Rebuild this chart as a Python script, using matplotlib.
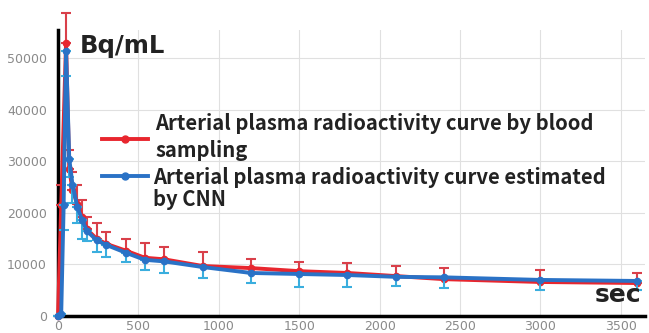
import numpy as np
import matplotlib
matplotlib.use("Agg")
import matplotlib.pyplot as plt
from matplotlib.lines import Line2D

# 血液採取による動脈血漿放射能曲線 (sec, Bq/mL)
t_red = [0, 20, 50, 70, 90, 120, 150, 180, 240, 300, 420, 540, 660, 900,
         1200, 1500, 1800, 2100, 2400, 3000, 3600]
v_red = [0, 21500, 53000, 28500, 24500, 21800, 19200, 16800, 15000, 14000, 12700,
         11300, 11000, 9700, 9300, 8700, 8350, 7750, 7150, 6600, 6400]
e_red = [0, 4000, 5800, 3700, 3500, 3600, 3300, 2500, 3000, 2300, 2300,
         2900, 2400, 2700, 1800, 1800, 1950, 1950, 2100, 2300, 1950]

# CNN推定
t_blue = [0, 20, 35, 50, 70, 90, 120, 150, 180, 240, 300, 420, 540, 660, 900,
          1200, 1500, 1800, 2100, 2400, 3000, 3600]
v_blue = [0, 400, 21500, 51500, 30500, 25500, 21200, 18600, 16500, 14700, 13800,
          12300, 10900, 10600, 9500, 8350, 8150, 7950, 7600, 7500, 7000, 6800]
e_blue = [0, 0, 4800, 5000, 3500, 3500, 3200, 3600, 2000, 2300, 2300,
          1800, 2000, 2250, 2100, 1950, 2550, 2350, 1800, 2100, 2000, 1800]

label_red = ["Arterial plasma radioactivity curve by blood", "sampling"]
label_blue = ["Arterial plasma radioactivity curve estimated", "by CNN"]

x_ticks = [0, 500, 1000, 1500, 2000, 2500, 3000, 3500]
y_ticks = [0, 10000, 20000, 30000, 40000, 50000]

red = "#e8262e"
red_err = "#d9404a"
blue = "#2a72c6"
blue_err = "#3aaede"
text_col = "#222222"

W, H = 649, 333
lab_font = ['Noto Sans CJK JP', 'DejaVu Sans']

fig = plt.figure(figsize=(W / 100, H / 100), dpi=100)
ax = fig.add_axes([58 / W, 17 / H, 587 / W, 286 / H])

# red: upper error only
ax.errorbar(t_red, v_red, yerr=[np.zeros(len(e_red)), e_red], color=red,
            ecolor=red_err, elinewidth=1.5, capsize=3.5, capthick=1.5,
            lw=2.8, marker='o', ms=4.5, clip_on=False, zorder=3)
# blue: lower error only
ax.errorbar(t_blue, v_blue, yerr=[e_blue, np.zeros(len(e_blue))], color=blue,
            ecolor=blue_err, elinewidth=1.5, capsize=3.5, capthick=1.5,
            lw=2.8, marker='o', ms=4.5, clip_on=False, zorder=4)

ax.set_xlim(0, 3650)
ax.set_ylim(0, 55500)
ax.set_xticks(x_ticks)
ax.set_yticks(y_ticks)
ax.tick_params(length=0, labelsize=9, labelcolor="#8a8a8a")
ax.tick_params(axis='y', pad=8)
ax.tick_params(axis='x', pad=3)
ax.grid(True, color="#e0e0e0", linewidth=0.8)
ax.set_axisbelow(True)

for s in ['top', 'right']:
    ax.spines[s].set_visible(False)
for s in ['left', 'bottom']:
    ax.spines[s].set_color('black')
    ax.spines[s].set_linewidth(2.5)

# axis unit labels
fig.text(80 / W, 1 - 46 / H, "Bq/mL", fontsize=17.5, fontweight='bold',
         color=text_col, va='center', ha='left', family='DejaVu Sans')
fig.text(641 / W, 1 - 295 / H, "sec", fontsize=18, fontweight='bold',
         color=text_col, va='center', ha='right', family='DejaVu Sans')

# manual legend: line with one marker in the middle
for col, y in [(red, 139), (blue, 176)]:
    fig.add_artist(Line2D([102 / W, 148 / W], [1 - y / H, 1 - y / H], color=col,
                          lw=2.8, transform=fig.transFigure))
    fig.add_artist(Line2D([125 / W], [1 - y / H], color=col, marker='o', ms=5,
                          transform=fig.transFigure))

for txt, x, y in [(label_red[0], 155, 123), (label_red[1], 155, 150),
                  (label_blue[0], 153, 177), (label_blue[1], 153, 200)]:
    fig.text(x / W, 1 - y / H, txt, fontsize=14.6, fontweight='bold',
             color=text_col, va='center', ha='left', family=lab_font)

plt.savefig("out.png", dpi=100)
plt.close()
